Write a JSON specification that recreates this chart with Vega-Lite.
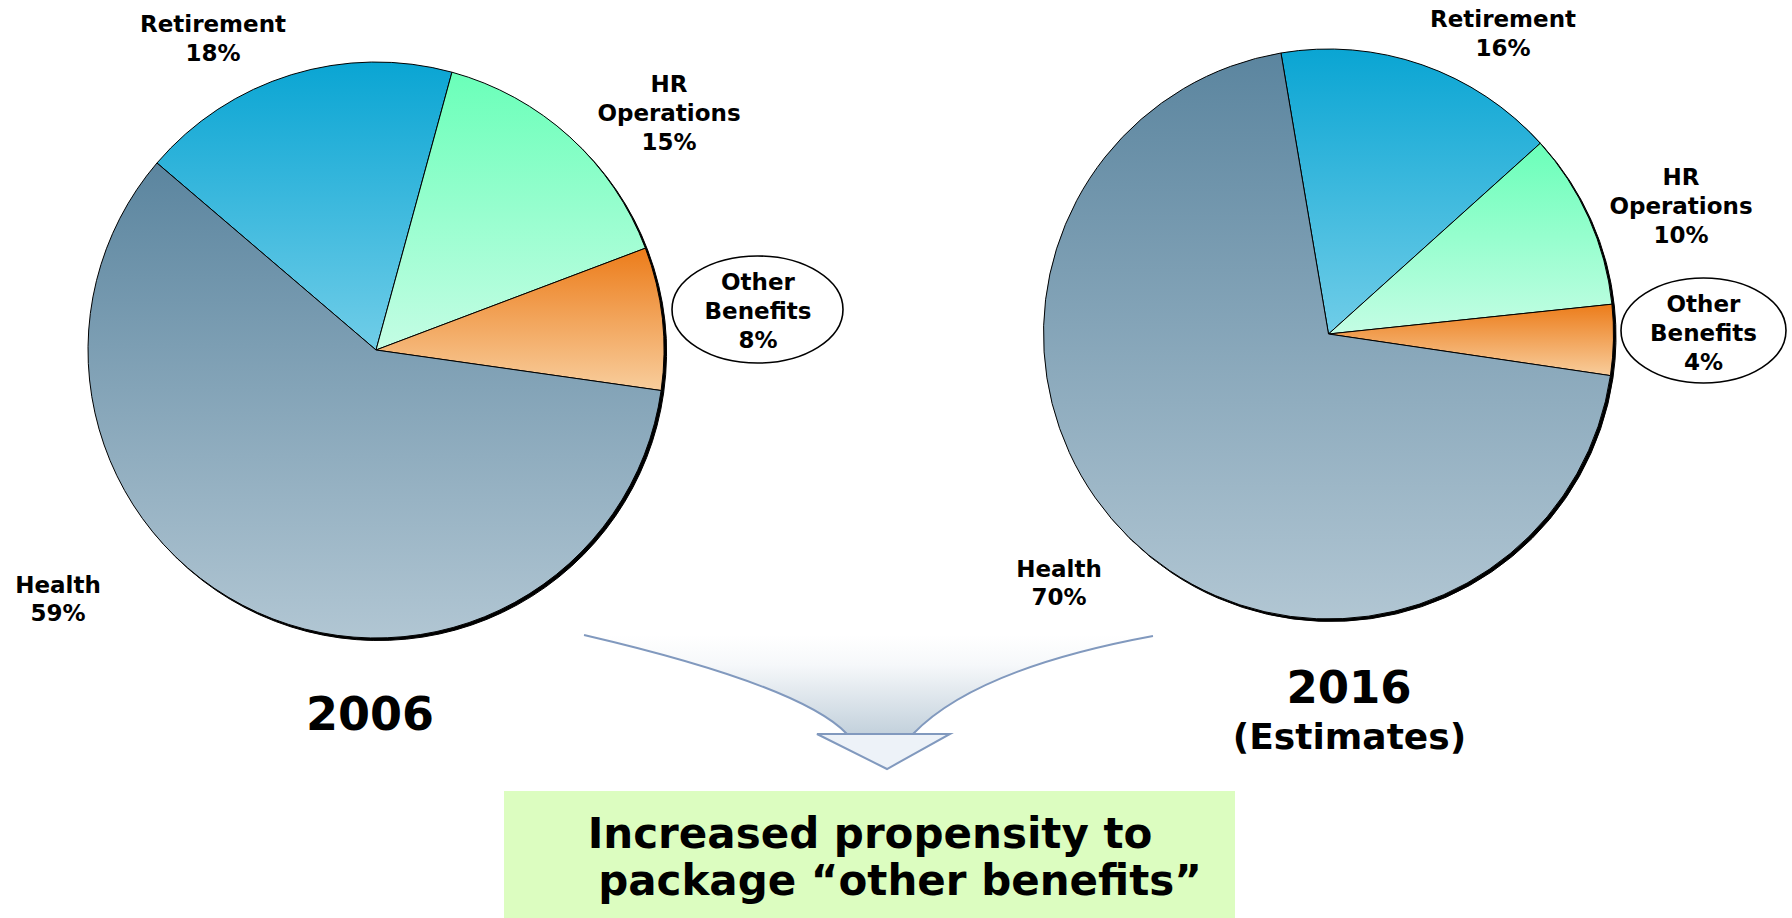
{
  "$schema": "https://vega.github.io/schema/vega-lite/v6.json",
  "width": 1792,
  "height": 918,
  "autosize": {"type": "fit", "contains": "padding"},
  "padding": 0,
  "background": "white",
  "config": {"view": {"stroke": null}},
  "datasets": {
    "shares": [
      {"year": "2006", "category": "Retirement", "share": 0.18, "order": 1},
      {"year": "2006", "category": "HR Operations", "share": 0.15, "order": 2},
      {"year": "2006", "category": "Other Benefits", "share": 0.08, "order": 3},
      {"year": "2006", "category": "Health", "share": 0.59, "order": 4},
      {"year": "2016", "category": "Retirement", "share": 0.16, "order": 1},
      {"year": "2016", "category": "HR Operations", "share": 0.10, "order": 2},
      {"year": "2016", "category": "Other Benefits", "share": 0.04, "order": 3},
      {"year": "2016", "category": "Health", "share": 0.70, "order": 4}
    ],
    "notes": [
      {"id": "y2006", "text": "2006"},
      {"id": "y2016", "text": "2016"},
      {"id": "est", "text": "(Estimates)"},
      {"id": "line1", "text": "Increased propensity to"},
      {"id": "line2", "text": "package “other benefits”"}
    ]
  },
  "layer": [
    {
      "data": {"values": [{}]},
      "mark": {"type": "rect", "fill": "#dcfdc0"},
      "encoding": {
        "x": {"datum": 504, "type": "quantitative", "scale": {"domain": [0, 1792], "nice": false, "zero": false}, "axis": null},
        "x2": {"datum": 1235},
        "y": {"datum": 791, "type": "quantitative", "scale": {"domain": [918, 0], "nice": false, "zero": false}, "axis": null},
        "y2": {"datum": 918}
      }
    },
    {
      "data": {"values": [{}]},
      "mark": {
        "type": "point",
        "shape": "M-0.9483,-0.2167C-0.5617,-0.1267,-0.195,-0.0167,-0.0717,0.1133L0.1483,0.1133C0.305,-0.05,0.605,-0.15,0.9483,-0.2133Z",
        "size": 360000,
        "filled": true,
        "opacity": 1,
        "strokeWidth": 0,
        "fill": {"gradient": "linear", "x1": 0, "y1": 0, "x2": 0, "y2": 1, "stops": [{"offset": 0, "color": "#ffffff"}, {"offset": 0.3, "color": "#f6f8fa"}, {"offset": 1, "color": "#c3d1dc"}]}
      },
      "encoding": {
        "x": {"datum": 868.5, "type": "quantitative", "scale": {"domain": [0, 1792], "nice": false, "zero": false}, "axis": null},
        "y": {"datum": 700, "type": "quantitative", "scale": {"domain": [918, 0], "nice": false, "zero": false}, "axis": null}
      }
    },
    {
      "data": {"values": [{}]},
      "mark": {
        "type": "point",
        "shape": "M-0.1717,0.1133L0.2717,0.1133L0.0617,0.23Z",
        "size": 360000,
        "filled": true,
        "opacity": 1,
        "fill": "#edf2f8",
        "stroke": "#8199be",
        "strokeWidth": 2
      },
      "encoding": {
        "x": {"datum": 868.5, "type": "quantitative", "scale": {"domain": [0, 1792], "nice": false, "zero": false}, "axis": null},
        "y": {"datum": 700, "type": "quantitative", "scale": {"domain": [918, 0], "nice": false, "zero": false}, "axis": null}
      }
    },
    {
      "data": {"values": [{}]},
      "mark": {
        "type": "point",
        "shape": "M-0.9483,-0.2167C-0.5617,-0.1267,-0.195,-0.0167,-0.0717,0.1133M0.1483,0.1133C0.305,-0.05,0.605,-0.15,0.9483,-0.2133",
        "size": 360000,
        "filled": false,
        "opacity": 1,
        "stroke": "#8199be",
        "strokeWidth": 2
      },
      "encoding": {
        "x": {"datum": 868.5, "type": "quantitative", "scale": {"domain": [0, 1792], "nice": false, "zero": false}, "axis": null},
        "y": {"datum": 700, "type": "quantitative", "scale": {"domain": [918, 0], "nice": false, "zero": false}, "axis": null}
      }
    },
    {
      "data": {"name": "shares"},
      "transform": [
        {"filter": "datum.year === '2006'"},
        {"stack": "share", "groupby": ["year"], "sort": [{"field": "order", "order": "ascending"}], "as": ["v0", "v1"]}
      ],
      "layer": [
        {
          "encoding": {
            "x": {"datum": 376, "type": "quantitative", "scale": {"domain": [0, 1792], "nice": false, "zero": false}, "axis": null},
            "y": {"datum": 350, "type": "quantitative", "scale": {"domain": [918, 0], "nice": false, "zero": false}, "axis": null},
            "theta": {"field": "v0", "type": "quantitative", "scale": {"domain": [0, 1], "range": [-0.864, 5.419]}},
            "theta2": {"field": "v1"}
          },
          "layer": [
            {
              "mark": {"type": "arc", "outerRadius": 288, "fill": "#000000", "stroke": "#000000", "strokeWidth": 1},
              "encoding": {
                "x": {"datum": 378.5, "type": "quantitative", "scale": {"domain": [0, 1792], "nice": false, "zero": false}, "axis": null},
                "y": {"datum": 352.5, "type": "quantitative", "scale": {"domain": [918, 0], "nice": false, "zero": false}, "axis": null}
              }
            },
            {
              "transform": [{"filter": "datum.category === 'Retirement'"}],
              "mark": {"type": "arc", "outerRadius": 288, "stroke": "#000000", "strokeWidth": 1,
                "fill": {"gradient": "linear", "x1": 0, "y1": 0, "x2": 0, "y2": 1, "stops": [{"offset": 0, "color": "#0aa5d3"}, {"offset": 1, "color": "#70cde8"}]}}
            },
            {
              "transform": [{"filter": "datum.category === 'HR Operations'"}],
              "mark": {"type": "arc", "outerRadius": 288, "stroke": "#000000", "strokeWidth": 1,
                "fill": {"gradient": "linear", "x1": 0, "y1": 0, "x2": 0, "y2": 1, "stops": [{"offset": 0, "color": "#6affb9"}, {"offset": 1, "color": "#c4fde4"}]}}
            },
            {
              "transform": [{"filter": "datum.category === 'Other Benefits'"}],
              "mark": {"type": "arc", "outerRadius": 288, "stroke": "#000000", "strokeWidth": 1,
                "fill": {"gradient": "linear", "x1": 0, "y1": 0, "x2": 0, "y2": 1, "stops": [{"offset": 0, "color": "#ec7c1a"}, {"offset": 1, "color": "#f8cd9c"}]}}
            },
            {
              "transform": [{"filter": "datum.category === 'Health'"}],
              "mark": {"type": "arc", "outerRadius": 288, "stroke": "#000000", "strokeWidth": 1,
                "fill": {"gradient": "linear", "x1": 0, "y1": 0, "x2": 0, "y2": 1, "stops": [{"offset": 0, "color": "#5b859f"}, {"offset": 1, "color": "#b1c6d3"}]}}
            }
          ]
        },
        {
          "transform": [{"filter": "datum.category === 'Other Benefits'"}],
          "mark": {
            "type": "point",
            "shape": "M-1,0C-1,-0.3457,-0.5523,-0.626,0,-0.626C0.5523,-0.626,1,-0.3457,1,0C1,0.3457,0.5523,0.626,0,0.626C-0.5523,0.626,-1,0.3457,-1,0Z",
            "size": 29241, "filled": true, "opacity": 1, "fill": "#ffffff", "stroke": "#000000", "strokeWidth": 1.6
          },
          "encoding": {
            "x": {"datum": 757.5, "type": "quantitative", "scale": {"domain": [0, 1792], "nice": false, "zero": false}, "axis": null},
            "y": {"datum": 309.5, "type": "quantitative", "scale": {"domain": [918, 0], "nice": false, "zero": false}, "axis": null}
          }
        },
        {
          "transform": [{"filter": "datum.category === 'Retirement'"}],
          "mark": {"type": "text", "font": "DejaVu Sans", "fontWeight": "bold", "fontSize": 23, "align": "center", "baseline": "alphabetic", "fill": "#000000", "lineBreak": " ", "lineHeight": 29},
          "encoding": {
            "x": {"datum": 213, "type": "quantitative", "scale": {"domain": [0, 1792], "nice": false, "zero": false}, "axis": null},
            "y": {"datum": 32, "type": "quantitative", "scale": {"domain": [918, 0], "nice": false, "zero": false}, "axis": null},
            "text": {"field": "category"}
          }
        },
        {
          "transform": [{"filter": "datum.category === 'Retirement'"}],
          "mark": {"type": "text", "font": "DejaVu Sans", "fontWeight": "bold", "fontSize": 23, "align": "center", "baseline": "alphabetic", "fill": "#000000"},
          "encoding": {
            "x": {"datum": 213, "type": "quantitative", "scale": {"domain": [0, 1792], "nice": false, "zero": false}, "axis": null},
            "y": {"datum": 61, "type": "quantitative", "scale": {"domain": [918, 0], "nice": false, "zero": false}, "axis": null},
            "text": {"field": "share", "type": "quantitative", "format": ".0%"}
          }
        },
        {
          "transform": [{"filter": "datum.category === 'HR Operations'"}],
          "mark": {"type": "text", "font": "DejaVu Sans", "fontWeight": "bold", "fontSize": 23, "align": "center", "baseline": "alphabetic", "fill": "#000000", "lineBreak": " ", "lineHeight": 29},
          "encoding": {
            "x": {"datum": 669, "type": "quantitative", "scale": {"domain": [0, 1792], "nice": false, "zero": false}, "axis": null},
            "y": {"datum": 92, "type": "quantitative", "scale": {"domain": [918, 0], "nice": false, "zero": false}, "axis": null},
            "text": {"field": "category"}
          }
        },
        {
          "transform": [{"filter": "datum.category === 'HR Operations'"}],
          "mark": {"type": "text", "font": "DejaVu Sans", "fontWeight": "bold", "fontSize": 23, "align": "center", "baseline": "alphabetic", "fill": "#000000"},
          "encoding": {
            "x": {"datum": 669, "type": "quantitative", "scale": {"domain": [0, 1792], "nice": false, "zero": false}, "axis": null},
            "y": {"datum": 150, "type": "quantitative", "scale": {"domain": [918, 0], "nice": false, "zero": false}, "axis": null},
            "text": {"field": "share", "type": "quantitative", "format": ".0%"}
          }
        },
        {
          "transform": [{"filter": "datum.category === 'Other Benefits'"}],
          "mark": {"type": "text", "font": "DejaVu Sans", "fontWeight": "bold", "fontSize": 23, "align": "center", "baseline": "alphabetic", "fill": "#000000", "lineBreak": " ", "lineHeight": 29},
          "encoding": {
            "x": {"datum": 758, "type": "quantitative", "scale": {"domain": [0, 1792], "nice": false, "zero": false}, "axis": null},
            "y": {"datum": 290, "type": "quantitative", "scale": {"domain": [918, 0], "nice": false, "zero": false}, "axis": null},
            "text": {"field": "category"}
          }
        },
        {
          "transform": [{"filter": "datum.category === 'Other Benefits'"}],
          "mark": {"type": "text", "font": "DejaVu Sans", "fontWeight": "bold", "fontSize": 23, "align": "center", "baseline": "alphabetic", "fill": "#000000"},
          "encoding": {
            "x": {"datum": 758, "type": "quantitative", "scale": {"domain": [0, 1792], "nice": false, "zero": false}, "axis": null},
            "y": {"datum": 348, "type": "quantitative", "scale": {"domain": [918, 0], "nice": false, "zero": false}, "axis": null},
            "text": {"field": "share", "type": "quantitative", "format": ".0%"}
          }
        },
        {
          "transform": [{"filter": "datum.category === 'Health'"}],
          "mark": {"type": "text", "font": "DejaVu Sans", "fontWeight": "bold", "fontSize": 23, "align": "center", "baseline": "alphabetic", "fill": "#000000", "lineBreak": " ", "lineHeight": 29},
          "encoding": {
            "x": {"datum": 58, "type": "quantitative", "scale": {"domain": [0, 1792], "nice": false, "zero": false}, "axis": null},
            "y": {"datum": 593, "type": "quantitative", "scale": {"domain": [918, 0], "nice": false, "zero": false}, "axis": null},
            "text": {"field": "category"}
          }
        },
        {
          "transform": [{"filter": "datum.category === 'Health'"}],
          "mark": {"type": "text", "font": "DejaVu Sans", "fontWeight": "bold", "fontSize": 23, "align": "center", "baseline": "alphabetic", "fill": "#000000"},
          "encoding": {
            "x": {"datum": 58, "type": "quantitative", "scale": {"domain": [0, 1792], "nice": false, "zero": false}, "axis": null},
            "y": {"datum": 621, "type": "quantitative", "scale": {"domain": [918, 0], "nice": false, "zero": false}, "axis": null},
            "text": {"field": "share", "type": "quantitative", "format": ".0%"}
          }
        }
      ]
    },
    {
      "data": {"name": "shares"},
      "transform": [
        {"filter": "datum.year === '2016'"},
        {"stack": "share", "groupby": ["year"], "sort": [{"field": "order", "order": "ascending"}], "as": ["v0", "v1"]}
      ],
      "layer": [
        {
          "encoding": {
            "x": {"datum": 1328.5, "type": "quantitative", "scale": {"domain": [0, 1792], "nice": false, "zero": false}, "axis": null},
            "y": {"datum": 334, "type": "quantitative", "scale": {"domain": [918, 0], "nice": false, "zero": false}, "axis": null},
            "theta": {"field": "v0", "type": "quantitative", "scale": {"domain": [0, 1], "range": [-0.1676, 6.1156]}},
            "theta2": {"field": "v1"}
          },
          "layer": [
            {
              "mark": {"type": "arc", "outerRadius": 285, "fill": "#000000", "stroke": "#000000", "strokeWidth": 1},
              "encoding": {
                "x": {"datum": 1331, "type": "quantitative", "scale": {"domain": [0, 1792], "nice": false, "zero": false}, "axis": null},
                "y": {"datum": 336.5, "type": "quantitative", "scale": {"domain": [918, 0], "nice": false, "zero": false}, "axis": null}
              }
            },
            {
              "transform": [{"filter": "datum.category === 'Retirement'"}],
              "mark": {"type": "arc", "outerRadius": 285, "stroke": "#000000", "strokeWidth": 1,
                "fill": {"gradient": "linear", "x1": 0, "y1": 0, "x2": 0, "y2": 1, "stops": [{"offset": 0, "color": "#0aa5d3"}, {"offset": 1, "color": "#70cde8"}]}}
            },
            {
              "transform": [{"filter": "datum.category === 'HR Operations'"}],
              "mark": {"type": "arc", "outerRadius": 285, "stroke": "#000000", "strokeWidth": 1,
                "fill": {"gradient": "linear", "x1": 0, "y1": 0, "x2": 0, "y2": 1, "stops": [{"offset": 0, "color": "#6affb9"}, {"offset": 1, "color": "#c4fde4"}]}}
            },
            {
              "transform": [{"filter": "datum.category === 'Other Benefits'"}],
              "mark": {"type": "arc", "outerRadius": 285, "stroke": "#000000", "strokeWidth": 1,
                "fill": {"gradient": "linear", "x1": 0, "y1": 0, "x2": 0, "y2": 1, "stops": [{"offset": 0, "color": "#ec7c1a"}, {"offset": 1, "color": "#f8cd9c"}]}}
            },
            {
              "transform": [{"filter": "datum.category === 'Health'"}],
              "mark": {"type": "arc", "outerRadius": 285, "stroke": "#000000", "strokeWidth": 1,
                "fill": {"gradient": "linear", "x1": 0, "y1": 0, "x2": 0, "y2": 1, "stops": [{"offset": 0, "color": "#5b859f"}, {"offset": 1, "color": "#b1c6d3"}]}}
            }
          ]
        },
        {
          "transform": [{"filter": "datum.category === 'Other Benefits'"}],
          "mark": {
            "type": "point",
            "shape": "M-1,0C-1,-0.3515,-0.5523,-0.6364,0,-0.6364C0.5523,-0.6364,1,-0.3515,1,0C1,0.3515,0.5523,0.6364,0,0.6364C-0.5523,0.6364,-1,0.3515,-1,0Z",
            "size": 27225, "filled": true, "opacity": 1, "fill": "#ffffff", "stroke": "#000000", "strokeWidth": 1.6
          },
          "encoding": {
            "x": {"datum": 1703.5, "type": "quantitative", "scale": {"domain": [0, 1792], "nice": false, "zero": false}, "axis": null},
            "y": {"datum": 330.5, "type": "quantitative", "scale": {"domain": [918, 0], "nice": false, "zero": false}, "axis": null}
          }
        },
        {
          "transform": [{"filter": "datum.category === 'Retirement'"}],
          "mark": {"type": "text", "font": "DejaVu Sans", "fontWeight": "bold", "fontSize": 23, "align": "center", "baseline": "alphabetic", "fill": "#000000", "lineBreak": " ", "lineHeight": 29},
          "encoding": {
            "x": {"datum": 1503, "type": "quantitative", "scale": {"domain": [0, 1792], "nice": false, "zero": false}, "axis": null},
            "y": {"datum": 27, "type": "quantitative", "scale": {"domain": [918, 0], "nice": false, "zero": false}, "axis": null},
            "text": {"field": "category"}
          }
        },
        {
          "transform": [{"filter": "datum.category === 'Retirement'"}],
          "mark": {"type": "text", "font": "DejaVu Sans", "fontWeight": "bold", "fontSize": 23, "align": "center", "baseline": "alphabetic", "fill": "#000000"},
          "encoding": {
            "x": {"datum": 1503, "type": "quantitative", "scale": {"domain": [0, 1792], "nice": false, "zero": false}, "axis": null},
            "y": {"datum": 56, "type": "quantitative", "scale": {"domain": [918, 0], "nice": false, "zero": false}, "axis": null},
            "text": {"field": "share", "type": "quantitative", "format": ".0%"}
          }
        },
        {
          "transform": [{"filter": "datum.category === 'HR Operations'"}],
          "mark": {"type": "text", "font": "DejaVu Sans", "fontWeight": "bold", "fontSize": 23, "align": "center", "baseline": "alphabetic", "fill": "#000000", "lineBreak": " ", "lineHeight": 29},
          "encoding": {
            "x": {"datum": 1681, "type": "quantitative", "scale": {"domain": [0, 1792], "nice": false, "zero": false}, "axis": null},
            "y": {"datum": 185, "type": "quantitative", "scale": {"domain": [918, 0], "nice": false, "zero": false}, "axis": null},
            "text": {"field": "category"}
          }
        },
        {
          "transform": [{"filter": "datum.category === 'HR Operations'"}],
          "mark": {"type": "text", "font": "DejaVu Sans", "fontWeight": "bold", "fontSize": 23, "align": "center", "baseline": "alphabetic", "fill": "#000000"},
          "encoding": {
            "x": {"datum": 1681, "type": "quantitative", "scale": {"domain": [0, 1792], "nice": false, "zero": false}, "axis": null},
            "y": {"datum": 243, "type": "quantitative", "scale": {"domain": [918, 0], "nice": false, "zero": false}, "axis": null},
            "text": {"field": "share", "type": "quantitative", "format": ".0%"}
          }
        },
        {
          "transform": [{"filter": "datum.category === 'Other Benefits'"}],
          "mark": {"type": "text", "font": "DejaVu Sans", "fontWeight": "bold", "fontSize": 23, "align": "center", "baseline": "alphabetic", "fill": "#000000", "lineBreak": " ", "lineHeight": 29},
          "encoding": {
            "x": {"datum": 1703.5, "type": "quantitative", "scale": {"domain": [0, 1792], "nice": false, "zero": false}, "axis": null},
            "y": {"datum": 312, "type": "quantitative", "scale": {"domain": [918, 0], "nice": false, "zero": false}, "axis": null},
            "text": {"field": "category"}
          }
        },
        {
          "transform": [{"filter": "datum.category === 'Other Benefits'"}],
          "mark": {"type": "text", "font": "DejaVu Sans", "fontWeight": "bold", "fontSize": 23, "align": "center", "baseline": "alphabetic", "fill": "#000000"},
          "encoding": {
            "x": {"datum": 1703.5, "type": "quantitative", "scale": {"domain": [0, 1792], "nice": false, "zero": false}, "axis": null},
            "y": {"datum": 370, "type": "quantitative", "scale": {"domain": [918, 0], "nice": false, "zero": false}, "axis": null},
            "text": {"field": "share", "type": "quantitative", "format": ".0%"}
          }
        },
        {
          "transform": [{"filter": "datum.category === 'Health'"}],
          "mark": {"type": "text", "font": "DejaVu Sans", "fontWeight": "bold", "fontSize": 23, "align": "center", "baseline": "alphabetic", "fill": "#000000", "lineBreak": " ", "lineHeight": 29},
          "encoding": {
            "x": {"datum": 1059, "type": "quantitative", "scale": {"domain": [0, 1792], "nice": false, "zero": false}, "axis": null},
            "y": {"datum": 577, "type": "quantitative", "scale": {"domain": [918, 0], "nice": false, "zero": false}, "axis": null},
            "text": {"field": "category"}
          }
        },
        {
          "transform": [{"filter": "datum.category === 'Health'"}],
          "mark": {"type": "text", "font": "DejaVu Sans", "fontWeight": "bold", "fontSize": 23, "align": "center", "baseline": "alphabetic", "fill": "#000000"},
          "encoding": {
            "x": {"datum": 1059, "type": "quantitative", "scale": {"domain": [0, 1792], "nice": false, "zero": false}, "axis": null},
            "y": {"datum": 605, "type": "quantitative", "scale": {"domain": [918, 0], "nice": false, "zero": false}, "axis": null},
            "text": {"field": "share", "type": "quantitative", "format": ".0%"}
          }
        }
      ]
    },
    {
      "data": {"name": "notes"},
      "transform": [{"filter": "datum.id === 'y2006'"}],
      "mark": {"type": "text", "font": "DejaVu Sans", "fontWeight": "bold", "fontSize": 46, "align": "center", "baseline": "alphabetic", "fill": "#000000"},
      "encoding": {
        "x": {"datum": 370, "type": "quantitative", "scale": {"domain": [0, 1792], "nice": false, "zero": false}, "axis": null},
        "y": {"datum": 730, "type": "quantitative", "scale": {"domain": [918, 0], "nice": false, "zero": false}, "axis": null},
        "text": {"field": "text"}
      }
    },
    {
      "data": {"name": "notes"},
      "transform": [{"filter": "datum.id === 'y2016'"}],
      "mark": {"type": "text", "font": "DejaVu Sans", "fontWeight": "bold", "fontSize": 45, "align": "center", "baseline": "alphabetic", "fill": "#000000"},
      "encoding": {
        "x": {"datum": 1349, "type": "quantitative", "scale": {"domain": [0, 1792], "nice": false, "zero": false}, "axis": null},
        "y": {"datum": 703, "type": "quantitative", "scale": {"domain": [918, 0], "nice": false, "zero": false}, "axis": null},
        "text": {"field": "text"}
      }
    },
    {
      "data": {"name": "notes"},
      "transform": [{"filter": "datum.id === 'est'"}],
      "mark": {"type": "text", "font": "DejaVu Sans", "fontWeight": "bold", "fontSize": 36, "align": "center", "baseline": "alphabetic", "fill": "#000000"},
      "encoding": {
        "x": {"datum": 1349.5, "type": "quantitative", "scale": {"domain": [0, 1792], "nice": false, "zero": false}, "axis": null},
        "y": {"datum": 749, "type": "quantitative", "scale": {"domain": [918, 0], "nice": false, "zero": false}, "axis": null},
        "text": {"field": "text"}
      }
    },
    {
      "data": {"name": "notes"},
      "transform": [{"filter": "datum.id === 'line1'"}],
      "mark": {"type": "text", "font": "DejaVu Sans", "fontWeight": "bold", "fontSize": 42, "align": "center", "baseline": "alphabetic", "fill": "#000000"},
      "encoding": {
        "x": {"datum": 870, "type": "quantitative", "scale": {"domain": [0, 1792], "nice": false, "zero": false}, "axis": null},
        "y": {"datum": 848, "type": "quantitative", "scale": {"domain": [918, 0], "nice": false, "zero": false}, "axis": null},
        "text": {"field": "text"}
      }
    },
    {
      "data": {"name": "notes"},
      "transform": [{"filter": "datum.id === 'line2'"}],
      "mark": {"type": "text", "font": "DejaVu Sans", "fontWeight": "bold", "fontSize": 42, "align": "center", "baseline": "alphabetic", "fill": "#000000"},
      "encoding": {
        "x": {"datum": 900, "type": "quantitative", "scale": {"domain": [0, 1792], "nice": false, "zero": false}, "axis": null},
        "y": {"datum": 895, "type": "quantitative", "scale": {"domain": [918, 0], "nice": false, "zero": false}, "axis": null},
        "text": {"field": "text"}
      }
    }
  ],
  "resolve": {"scale": {"theta": "independent"}}
}
